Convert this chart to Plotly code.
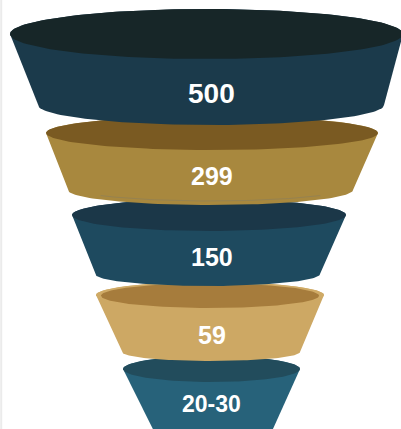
import numpy as np
import plotly.graph_objects as go

# ---- data ----
labels = ["500", "299", "150", "59", "20-30"]
side_colors = ["#1b3a4b", "#a8883e", "#1e4a5f", "#cda864", "#27627a"]
top_colors = ["#172628", "#7a5a22", "#1b3748", "#a67c3c", "#224c5c"]

# ---- geometry of each funnel ring (pixel space, y downwards) ----
geometry = [
    dict(tl=10, tr=403, ty=34, ry=25, bl=38, br=384, by=105, bb=20, ly=93, fs=28),
    dict(tl=46, tr=378, ty=133, ry=17, bl=68, br=353, by=190, bb=15, ly=176, fs=25),
    dict(tl=72, tr=346, ty=215, ry=16, bl=95, br=320, by=274, bb=12, ly=256.5, fs=25),
    dict(tl=96, tr=324, ty=295, ry=13, bl=122, br=300, by=352, bb=9, ly=335, fs=25),
    dict(tl=123, tr=300, ty=369, ry=13, bl=167, br=259, by=460, bb=0, ly=404, fs=23),
]
W, H = 401, 429

fig = go.Figure()


def poly(xs, ys, color):
    fig.add_trace(go.Scatter(x=xs, y=ys, mode="lines", fill="toself",
                             fillcolor=color, line=dict(width=0, color=color),
                             hoverinfo="skip", showlegend=False))


for i in reversed(range(len(labels))):
    g = geometry[i]
    t = np.linspace(np.pi, 0, 80)
    bcx, ba = (g["bl"] + g["br"]) / 2, (g["br"] - g["bl"]) / 2
    tcx, ta = (g["tl"] + g["tr"]) / 2, (g["tr"] - g["tl"]) / 2
    bx = bcx + ba * np.cos(t)
    by = g["by"] + g["bb"] * np.sin(t)
    t2 = np.linspace(0, np.pi, 80)
    ux = tcx + ta * np.cos(t2)
    uy = g["ty"] - g["ry"] * np.sin(t2)
    xs = np.concatenate([[g["tl"]], bx, [g["tr"]], ux])
    ys = np.concatenate([[g["ty"]], by, [g["ty"]], uy])
    poly(xs, ys, side_colors[i])

    te = np.linspace(0, 2 * np.pi, 160)
    if i == 3:
        poly(tcx + ta * np.cos(te), g["ty"] + g["ry"] * np.sin(te), "#cfaa66")
        poly(tcx + (ta - 5) * np.cos(te), g["ty"] + 0.7 + (g["ry"] - 0.7) * np.sin(te), top_colors[i])
    else:
        poly(tcx + ta * np.cos(te), g["ty"] + g["ry"] * np.sin(te), top_colors[i])

    if i == 1:
        tl_ = np.linspace(0.22 * np.pi, 0.78 * np.pi, 60)
        fig.add_trace(go.Scatter(x=bcx + ba * np.cos(tl_), y=g["by"] - 4 + g["bb"] * np.sin(tl_),
                                 mode="lines", line=dict(width=1, color="#968250"),
                                 hoverinfo="skip", showlegend=False))

for i, lab in enumerate(labels):
    g = geometry[i]
    fig.add_annotation(x=211.5, y=g["ly"], text="<b>%s</b>" % lab, showarrow=False,
                       font=dict(family="Liberation Sans, Arial", size=g["fs"], color="white"),
                       xanchor="center", yanchor="middle")

fig.add_shape(type="line", xref="paper", yref="paper", x0=0.003, x1=0.003, y0=0, y1=1,
              line=dict(color="#ebebeb", width=2))

fig.update_layout(width=W, height=H, margin=dict(l=0, r=0, t=0, b=0),
                  paper_bgcolor="white", plot_bgcolor="white",
                  xaxis=dict(range=[0, W], visible=False, fixedrange=True),
                  yaxis=dict(range=[H, 0], visible=False, fixedrange=True))

fig.write_html("out.html", config={"displayModeBar": False})
